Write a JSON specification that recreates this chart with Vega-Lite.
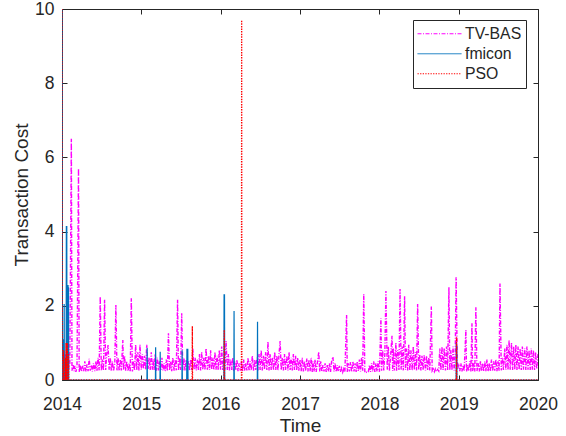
{
  "$schema": "https://vega.github.io/schema/vega-lite/v6.json",
  "width": 476,
  "height": 371,
  "autosize": {"type": "none"},
  "padding": {"left": 62, "top": 9, "right": 28, "bottom": 56},
  "background": "white",
  "config": {
    "font": "Liberation Sans",
    "view": {"stroke": "#262626", "strokeWidth": 1},
    "axis": {
      "grid": false, "domain": false,
      "tickColor": "#262626", "tickSize": -5, "tickWidth": 1,
      "labelColor": "#262626", "labelFont": "Liberation Sans", "labelFontSize": 17.5, "labelFlush": false,
      "titleColor": "#262626", "titleFont": "Liberation Sans", "titleFontSize": 19, "titleFontWeight": "normal"
    },
    "axisX": {"labelPadding": 20, "titlePadding": 4},
    "axisY": {"labelPadding": 13, "titlePadding": 3},
    "legend": {
      "orient": "none", "legendX": 351, "legendY": 11,
      "symbolType": "stroke", "symbolSize": 1936, "symbolStrokeWidth": 1,
      "labelFont": "Liberation Sans", "labelFontSize": 15.8, "labelColor": "#262626", "labelOffset": 3,
      "padding": 4, "rowPadding": 0, "clipHeight": 19.5,
      "strokeColor": "#262626", "fillColor": "white"
    }
  },
  "datasets": {
    "tvbas": [
      {"t":"2014-01-01","v":0.45},{"t":"2014-01-06","v":0.55},{"t":"2014-01-11","v":0.3},{"t":"2014-01-16","v":0.7},{"t":"2014-01-21","v":0.28},{"t":"2014-01-26","v":0.6},
      {"t":"2014-02-01","v":0.3},{"t":"2014-02-06","v":0.45},{"t":"2014-02-13","v":6.5},{"t":"2014-02-16","v":0.25},{"t":"2014-02-21","v":0.42},{"t":"2014-02-26","v":0.24},
      {"t":"2014-03-01","v":0.38},{"t":"2014-03-06","v":0.22},{"t":"2014-03-11","v":0.35},{"t":"2014-03-18","v":5.7},{"t":"2014-03-21","v":0.22},{"t":"2014-03-26","v":0.4},
      {"t":"2014-04-01","v":0.23},{"t":"2014-04-06","v":0.38},{"t":"2014-04-11","v":0.24},{"t":"2014-04-16","v":0.5},{"t":"2014-04-21","v":0.23},{"t":"2014-04-26","v":0.42},
      {"t":"2014-05-01","v":0.24},{"t":"2014-05-06","v":0.57},{"t":"2014-05-11","v":0.25},{"t":"2014-05-16","v":0.4},{"t":"2014-05-21","v":0.23},{"t":"2014-05-26","v":0.45},
      {"t":"2014-06-01","v":0.24},{"t":"2014-06-06","v":0.5},{"t":"2014-06-11","v":0.25},{"t":"2014-06-16","v":0.6},{"t":"2014-06-21","v":0.26},{"t":"2014-06-26","v":2.25},
      {"t":"2014-07-01","v":0.26},{"t":"2014-07-06","v":0.55},{"t":"2014-07-11","v":0.25},{"t":"2014-07-16","v":2.16},{"t":"2014-07-21","v":0.27},{"t":"2014-07-26","v":0.7},
      {"t":"2014-08-01","v":0.94},{"t":"2014-08-06","v":0.28},{"t":"2014-08-11","v":0.6},{"t":"2014-08-16","v":0.25},{"t":"2014-08-21","v":0.5},{"t":"2014-08-26","v":0.24},
      {"t":"2014-09-01","v":0.45},{"t":"2014-09-06","v":2.02},{"t":"2014-09-11","v":0.26},{"t":"2014-09-16","v":0.6},{"t":"2014-09-21","v":0.25},{"t":"2014-09-26","v":0.55},
      {"t":"2014-10-01","v":0.26},{"t":"2014-10-08","v":1.08},{"t":"2014-10-11","v":0.27},{"t":"2014-10-16","v":0.65},{"t":"2014-10-21","v":0.25},{"t":"2014-10-26","v":0.5},
      {"t":"2014-11-01","v":0.24},{"t":"2014-11-06","v":0.45},{"t":"2014-11-11","v":0.22},{"t":"2014-11-16","v":2.2},{"t":"2014-11-21","v":0.23},{"t":"2014-11-26","v":0.5},
      {"t":"2014-12-01","v":0.26},{"t":"2014-12-06","v":0.95},{"t":"2014-12-11","v":0.27},{"t":"2014-12-16","v":0.75},{"t":"2014-12-21","v":0.26},{"t":"2014-12-26","v":0.95},
      {"t":"2015-01-01","v":0.28},{"t":"2015-01-06","v":0.7},{"t":"2015-01-11","v":0.3},{"t":"2015-01-16","v":0.65},{"t":"2015-01-21","v":0.28},{"t":"2015-01-26","v":0.95},
      {"t":"2015-02-01","v":0.3},{"t":"2015-02-06","v":0.6},{"t":"2015-02-11","v":0.27},{"t":"2015-02-16","v":0.75},{"t":"2015-02-21","v":0.28},{"t":"2015-02-26","v":0.55},
      {"t":"2015-03-01","v":0.27},{"t":"2015-03-06","v":0.7},{"t":"2015-03-11","v":0.25},{"t":"2015-03-16","v":0.6},{"t":"2015-03-21","v":0.26},{"t":"2015-03-26","v":0.5},
      {"t":"2015-04-01","v":0.25},{"t":"2015-04-06","v":0.6},{"t":"2015-04-11","v":0.26},{"t":"2015-04-16","v":0.45},{"t":"2015-04-21","v":0.24},{"t":"2015-04-26","v":0.55},
      {"t":"2015-05-01","v":0.25},{"t":"2015-05-06","v":1.26},{"t":"2015-05-11","v":0.26},{"t":"2015-05-16","v":0.5},{"t":"2015-05-21","v":0.24},{"t":"2015-05-26","v":0.6},
      {"t":"2015-06-01","v":0.25},{"t":"2015-06-06","v":0.55},{"t":"2015-06-11","v":0.26},{"t":"2015-06-17","v":2.16},{"t":"2015-06-21","v":0.25},{"t":"2015-06-26","v":0.6},
      {"t":"2015-07-01","v":0.27},{"t":"2015-07-06","v":1.8},{"t":"2015-07-11","v":0.26},{"t":"2015-07-16","v":0.6},{"t":"2015-07-21","v":0.25},{"t":"2015-07-26","v":0.55},
      {"t":"2015-08-01","v":0.26},{"t":"2015-08-06","v":0.5},{"t":"2015-08-11","v":0.25},{"t":"2015-08-16","v":0.55},{"t":"2015-08-21","v":0.27},{"t":"2015-08-26","v":0.85},
      {"t":"2015-09-01","v":0.28},{"t":"2015-09-06","v":0.6},{"t":"2015-09-11","v":0.26},{"t":"2015-09-16","v":0.55},{"t":"2015-09-21","v":0.27},{"t":"2015-09-26","v":0.7},
      {"t":"2015-10-01","v":0.26},{"t":"2015-10-06","v":0.75},{"t":"2015-10-11","v":0.28},{"t":"2015-10-16","v":0.6},{"t":"2015-10-21","v":0.27},{"t":"2015-10-26","v":0.85},
      {"t":"2015-11-01","v":0.28},{"t":"2015-11-06","v":0.65},{"t":"2015-11-11","v":0.27},{"t":"2015-11-16","v":0.8},{"t":"2015-11-21","v":0.28},{"t":"2015-11-26","v":0.6},
      {"t":"2015-12-01","v":0.27},{"t":"2015-12-06","v":0.75},{"t":"2015-12-11","v":0.28},{"t":"2015-12-16","v":0.65},{"t":"2015-12-21","v":0.27},{"t":"2015-12-26","v":0.8},
      {"t":"2016-01-01","v":0.28},{"t":"2016-01-06","v":0.9},{"t":"2016-01-11","v":0.27},{"t":"2016-01-16","v":0.6},{"t":"2016-01-21","v":0.28},{"t":"2016-01-26","v":1.05},
      {"t":"2016-02-01","v":0.27},{"t":"2016-02-06","v":0.7},{"t":"2016-02-11","v":0.26},{"t":"2016-02-16","v":0.55},{"t":"2016-02-21","v":0.27},{"t":"2016-02-26","v":0.6},
      {"t":"2016-03-01","v":0.25},{"t":"2016-03-06","v":0.5},{"t":"2016-03-11","v":0.26},{"t":"2016-03-16","v":0.55},{"t":"2016-03-21","v":0.24},{"t":"2016-03-26","v":0.45},
      {"t":"2016-04-01","v":0.25},{"t":"2016-04-06","v":0.5},{"t":"2016-04-11","v":0.24},{"t":"2016-04-16","v":0.55},{"t":"2016-04-21","v":0.25},{"t":"2016-04-26","v":0.45},
      {"t":"2016-05-01","v":0.26},{"t":"2016-05-06","v":0.6},{"t":"2016-05-11","v":0.25},{"t":"2016-05-16","v":0.5},{"t":"2016-05-21","v":0.26},{"t":"2016-05-26","v":0.65},
      {"t":"2016-06-01","v":0.25},{"t":"2016-06-06","v":0.55},{"t":"2016-06-11","v":0.27},{"t":"2016-06-16","v":0.6},{"t":"2016-06-21","v":0.26},{"t":"2016-06-26","v":0.7},
      {"t":"2016-07-01","v":0.27},{"t":"2016-07-06","v":0.8},{"t":"2016-07-11","v":0.26},{"t":"2016-07-16","v":0.65},{"t":"2016-07-21","v":0.28},{"t":"2016-07-26","v":0.75},
      {"t":"2016-08-01","v":0.27},{"t":"2016-08-06","v":1.03},{"t":"2016-08-11","v":0.26},{"t":"2016-08-16","v":0.7},{"t":"2016-08-21","v":0.27},{"t":"2016-08-26","v":0.6},
      {"t":"2016-09-01","v":0.26},{"t":"2016-09-06","v":0.75},{"t":"2016-09-11","v":0.27},{"t":"2016-09-16","v":0.65},{"t":"2016-09-21","v":0.26},{"t":"2016-09-26","v":0.7},
      {"t":"2016-10-01","v":1.05},{"t":"2016-10-06","v":0.27},{"t":"2016-10-11","v":0.6},{"t":"2016-10-16","v":0.26},{"t":"2016-10-21","v":0.7},{"t":"2016-10-26","v":0.27},
      {"t":"2016-11-01","v":0.65},{"t":"2016-11-06","v":0.26},{"t":"2016-11-11","v":0.75},{"t":"2016-11-16","v":0.27},{"t":"2016-11-21","v":0.6},{"t":"2016-11-26","v":0.26},
      {"t":"2016-12-01","v":0.7},{"t":"2016-12-06","v":0.27},{"t":"2016-12-11","v":0.65},{"t":"2016-12-16","v":0.26},{"t":"2016-12-21","v":0.6},{"t":"2016-12-26","v":0.25},
      {"t":"2017-01-01","v":0.55},{"t":"2017-01-06","v":0.24},{"t":"2017-01-11","v":0.6},{"t":"2017-01-16","v":0.23},{"t":"2017-01-21","v":0.5},{"t":"2017-01-26","v":0.24},
      {"t":"2017-02-01","v":0.58},{"t":"2017-02-06","v":0.23},{"t":"2017-02-11","v":0.55},{"t":"2017-02-16","v":0.24},{"t":"2017-02-21","v":0.6},{"t":"2017-02-26","v":0.22},
      {"t":"2017-03-01","v":0.5},{"t":"2017-03-06","v":0.23},{"t":"2017-03-11","v":0.55},{"t":"2017-03-16","v":0.22},{"t":"2017-03-21","v":0.45},{"t":"2017-03-28","v":0.76},
      {"t":"2017-04-01","v":0.23},{"t":"2017-04-06","v":0.5},{"t":"2017-04-11","v":0.22},{"t":"2017-04-16","v":0.4},{"t":"2017-04-21","v":0.23},{"t":"2017-04-26","v":0.45},
      {"t":"2017-05-01","v":0.22},{"t":"2017-05-06","v":0.4},{"t":"2017-05-11","v":0.23},{"t":"2017-05-16","v":0.45},{"t":"2017-05-21","v":0.22},{"t":"2017-05-26","v":0.5},
      {"t":"2017-06-01","v":0.62},{"t":"2017-06-06","v":0.23},{"t":"2017-06-11","v":0.45},{"t":"2017-06-16","v":0.22},{"t":"2017-06-21","v":0.4},{"t":"2017-06-26","v":0.23},
      {"t":"2017-07-01","v":0.38},{"t":"2017-07-06","v":0.22},{"t":"2017-07-11","v":0.32},{"t":"2017-07-16","v":0.21},{"t":"2017-07-21","v":0.3},{"t":"2017-07-26","v":0.21},
      {"t":"2017-08-03","v":1.75},{"t":"2017-08-06","v":0.22},{"t":"2017-08-11","v":0.45},{"t":"2017-08-16","v":0.23},{"t":"2017-08-21","v":0.48},{"t":"2017-08-26","v":0.22},
      {"t":"2017-09-01","v":0.5},{"t":"2017-09-06","v":0.23},{"t":"2017-09-11","v":0.45},{"t":"2017-09-16","v":0.22},{"t":"2017-09-21","v":0.5},{"t":"2017-09-26","v":0.24},
      {"t":"2017-10-01","v":0.55},{"t":"2017-10-06","v":0.23},{"t":"2017-10-11","v":0.6},{"t":"2017-10-16","v":0.25},{"t":"2017-10-21","v":2.32},{"t":"2017-10-26","v":0.2},
      {"t":"2017-11-01","v":0.21},{"t":"2017-11-06","v":0.2},{"t":"2017-11-11","v":0.22},{"t":"2017-11-16","v":0.4},{"t":"2017-11-21","v":0.22},{"t":"2017-11-26","v":0.45},
      {"t":"2017-12-01","v":0.23},{"t":"2017-12-06","v":0.5},{"t":"2017-12-11","v":0.22},{"t":"2017-12-16","v":0.45},{"t":"2017-12-21","v":0.23},{"t":"2017-12-26","v":0.5},
      {"t":"2018-01-01","v":0.22},{"t":"2018-01-08","v":1.66},{"t":"2018-01-11","v":0.25},{"t":"2018-01-16","v":0.8},{"t":"2018-01-21","v":0.26},{"t":"2018-01-26","v":0.7},
      {"t":"2018-01-31","v":2.4},{"t":"2018-02-06","v":0.28},{"t":"2018-02-11","v":0.9},{"t":"2018-02-16","v":0.25},{"t":"2018-02-21","v":0.6},{"t":"2018-02-28","v":1.19},
      {"t":"2018-03-03","v":0.25},{"t":"2018-03-06","v":0.85},{"t":"2018-03-11","v":0.26},{"t":"2018-03-18","v":1.0},{"t":"2018-03-21","v":0.25},{"t":"2018-03-26","v":0.8},
      {"t":"2018-04-01","v":0.27},{"t":"2018-04-06","v":2.45},{"t":"2018-04-11","v":0.28},{"t":"2018-04-16","v":0.9},{"t":"2018-04-21","v":0.26},{"t":"2018-04-27","v":2.26},
      {"t":"2018-05-01","v":0.27},{"t":"2018-05-06","v":0.85},{"t":"2018-05-11","v":0.26},{"t":"2018-05-16","v":0.95},{"t":"2018-05-21","v":0.25},{"t":"2018-05-26","v":0.8},
      {"t":"2018-06-01","v":0.26},{"t":"2018-06-06","v":0.9},{"t":"2018-06-11","v":0.27},{"t":"2018-06-16","v":0.75},{"t":"2018-06-21","v":0.26},{"t":"2018-06-26","v":2.05},
      {"t":"2018-07-01","v":0.27},{"t":"2018-07-06","v":0.67},{"t":"2018-07-11","v":0.26},{"t":"2018-07-16","v":0.65},{"t":"2018-07-21","v":0.27},{"t":"2018-07-26","v":0.67},
      {"t":"2018-08-01","v":0.26},{"t":"2018-08-06","v":0.65},{"t":"2018-08-11","v":0.27},{"t":"2018-08-16","v":0.6},{"t":"2018-08-21","v":0.26},{"t":"2018-08-28","v":1.98},
      {"t":"2018-09-01","v":0.25},{"t":"2018-09-06","v":0.3},{"t":"2018-09-11","v":0.22},{"t":"2018-09-16","v":0.3},{"t":"2018-09-21","v":0.23},{"t":"2018-09-26","v":0.28},
      {"t":"2018-10-01","v":0.24},{"t":"2018-10-06","v":0.85},{"t":"2018-10-11","v":0.26},{"t":"2018-10-16","v":0.9},{"t":"2018-10-21","v":0.27},{"t":"2018-10-26","v":0.85},
      {"t":"2018-11-01","v":0.26},{"t":"2018-11-06","v":0.9},{"t":"2018-11-11","v":0.27},{"t":"2018-11-17","v":2.5},{"t":"2018-11-21","v":0.26},{"t":"2018-11-26","v":0.8},
      {"t":"2018-12-01","v":0.27},{"t":"2018-12-06","v":0.9},{"t":"2018-12-11","v":0.26},{"t":"2018-12-16","v":0.7},{"t":"2018-12-20","v":2.77},{"t":"2018-12-26","v":0.3},
      {"t":"2019-01-01","v":0.4},{"t":"2019-01-06","v":0.24},{"t":"2019-01-11","v":0.45},{"t":"2019-01-16","v":0.23},{"t":"2019-01-21","v":0.4},{"t":"2019-01-26","v":0.24},
      {"t":"2019-02-03","v":1.35},{"t":"2019-02-06","v":0.23},{"t":"2019-02-11","v":0.4},{"t":"2019-02-16","v":0.24},{"t":"2019-02-21","v":0.5},{"t":"2019-02-26","v":0.23},
      {"t":"2019-03-03","v":1.53},{"t":"2019-03-06","v":0.24},{"t":"2019-03-11","v":0.45},{"t":"2019-03-16","v":0.23},{"t":"2019-03-21","v":1.96},{"t":"2019-03-26","v":0.24},
      {"t":"2019-04-01","v":0.45},{"t":"2019-04-06","v":0.23},{"t":"2019-04-11","v":0.5},{"t":"2019-04-16","v":0.24},{"t":"2019-04-21","v":0.45},{"t":"2019-04-26","v":0.23},
      {"t":"2019-05-01","v":0.5},{"t":"2019-05-06","v":0.24},{"t":"2019-05-11","v":0.55},{"t":"2019-05-16","v":0.23},{"t":"2019-05-21","v":0.45},{"t":"2019-05-26","v":0.24},
      {"t":"2019-06-01","v":0.55},{"t":"2019-06-06","v":0.24},{"t":"2019-06-11","v":0.5},{"t":"2019-06-16","v":0.25},{"t":"2019-06-21","v":0.55},{"t":"2019-06-26","v":0.24},
      {"t":"2019-07-01","v":0.5},{"t":"2019-07-06","v":0.25},{"t":"2019-07-10","v":2.6},{"t":"2019-07-16","v":0.26},{"t":"2019-07-21","v":0.6},{"t":"2019-07-26","v":0.27},
      {"t":"2019-08-01","v":0.85},{"t":"2019-08-06","v":0.28},{"t":"2019-08-11","v":0.95},{"t":"2019-08-16","v":0.27},{"t":"2019-08-21","v":1.07},{"t":"2019-08-26","v":0.28},
      {"t":"2019-09-01","v":1.0},{"t":"2019-09-06","v":0.27},{"t":"2019-09-11","v":0.9},{"t":"2019-09-16","v":0.28},{"t":"2019-09-21","v":0.95},{"t":"2019-09-26","v":0.27},
      {"t":"2019-10-01","v":0.9},{"t":"2019-10-06","v":0.28},{"t":"2019-10-11","v":0.85},{"t":"2019-10-16","v":0.27},{"t":"2019-10-21","v":0.9},{"t":"2019-10-26","v":0.28},
      {"t":"2019-11-01","v":0.85},{"t":"2019-11-06","v":0.27},{"t":"2019-11-11","v":0.9},{"t":"2019-11-16","v":0.28},{"t":"2019-11-21","v":0.8},{"t":"2019-11-26","v":0.27},
      {"t":"2019-12-01","v":0.85},{"t":"2019-12-06","v":0.28},{"t":"2019-12-11","v":0.8},{"t":"2019-12-16","v":0.27},{"t":"2019-12-21","v":0.75},{"t":"2019-12-26","v":0.3},
      {"t":"2020-01-01","v":0.7}
    ],
    "fmicon": [
      {"t":"2014-01-01","v":10},{"t":"2014-01-02","v":0},
      {"t":"2014-01-07","v":0},{"t":"2014-01-08","v":1.1},{"t":"2014-01-09","v":0},
      {"t":"2014-01-10","v":0},{"t":"2014-01-11","v":2.05},{"t":"2014-01-12","v":0},
      {"t":"2014-01-20","v":0},{"t":"2014-01-21","v":4.15},{"t":"2014-01-22","v":0},{"t":"2014-01-23","v":4.15},{"t":"2014-01-24","v":0},
      {"t":"2014-01-28","v":0},{"t":"2014-01-29","v":2.56},{"t":"2014-01-30","v":0},{"t":"2014-01-31","v":2.5},{"t":"2014-02-01","v":0},
      {"t":"2015-01-27","v":0},{"t":"2015-01-28","v":0.86},{"t":"2015-01-29","v":0},
      {"t":"2015-03-07","v":0},{"t":"2015-03-08","v":0.88},{"t":"2015-03-09","v":0},
      {"t":"2015-03-28","v":0},{"t":"2015-03-29","v":0.76},{"t":"2015-03-30","v":0},
      {"t":"2015-07-07","v":0},{"t":"2015-07-08","v":0.8},{"t":"2015-07-09","v":0},
      {"t":"2015-07-29","v":0},{"t":"2015-07-30","v":0.84},{"t":"2015-07-31","v":0},{"t":"2015-08-01","v":0.84},{"t":"2015-08-02","v":0},{"t":"2015-08-03","v":0.84},{"t":"2015-08-04","v":0},
      {"t":"2016-01-16","v":0},{"t":"2016-01-17","v":2.31},{"t":"2016-01-18","v":0},{"t":"2016-01-19","v":2.31},{"t":"2016-01-20","v":0},
      {"t":"2016-03-02","v":0},{"t":"2016-03-03","v":1.86},{"t":"2016-03-04","v":0},
      {"t":"2016-06-18","v":0},{"t":"2016-06-19","v":1.57},{"t":"2016-06-20","v":0},
      {"t":"2018-12-20","v":0},{"t":"2018-12-21","v":1.0},{"t":"2018-12-22","v":0},{"t":"2018-12-23","v":0.95},{"t":"2018-12-24","v":0},
      {"t":"2020-01-01","v":0}
    ],
    "pso": [
      {"t":"2014-01-01","v":10},{"t":"2014-01-02","v":0},
      {"t":"2014-01-07","v":0},{"t":"2014-01-08","v":0.8},{"t":"2014-01-09","v":0},
      {"t":"2014-01-15","v":0},{"t":"2014-01-16","v":0.6},{"t":"2014-01-17","v":0},
      {"t":"2014-01-19","v":0},{"t":"2014-01-20","v":1.0},{"t":"2014-01-21","v":0},
      {"t":"2014-01-25","v":0},{"t":"2014-01-26","v":1.0},{"t":"2014-01-27","v":0},
      {"t":"2014-01-30","v":0},{"t":"2014-01-31","v":0.7},{"t":"2014-02-01","v":0},
      {"t":"2015-08-23","v":0},{"t":"2015-08-24","v":1.45},{"t":"2015-08-25","v":0},
      {"t":"2016-01-17","v":0},{"t":"2016-01-18","v":1.35},{"t":"2016-01-19","v":0},
      {"t":"2016-04-06","v":0},{"t":"2016-04-07","v":9.7},{"t":"2016-04-08","v":0},
      {"t":"2018-12-21","v":0},{"t":"2018-12-22","v":1.15},{"t":"2018-12-23","v":0},
      {"t":"2020-01-01","v":0}
    ]
  },
  "layer": [
    {
      "data": {"name": "tvbas"},
      "mark": {"type": "line", "strokeWidth": 1.4, "clip": true},
      "encoding": {
        "x": {
          "field": "t", "type": "temporal", "title": "Time",
          "scale": {"type": "utc", "domain": [{"year": 2014, "month": 1, "date": 1, "utc": true}, {"year": 2020, "month": 1, "date": 1, "utc": true}]},
          "axis": {"format": "%Y", "tickCount": {"interval": "year", "step": 1}}
        },
        "y": {
          "field": "v", "type": "quantitative", "title": "Transaction Cost",
          "scale": {"domain": [0, 10], "nice": false},
          "axis": {"values": [0, 2, 4, 6, 8, 10]}
        },
        "color": {
          "datum": "TV-BAS", "type": "nominal",
          "scale": {"domain": ["TV-BAS", "fmicon", "PSO"], "range": ["#FF00FF", "#0072BD", "#FF0000"]},
          "legend": {"title": null}
        },
        "strokeDash": {
          "datum": "TV-BAS", "type": "nominal",
          "scale": {"domain": ["TV-BAS", "fmicon", "PSO"], "range": [[4, 1.5, 1, 1.5], [1, 0], [1.3, 1.3]]},
          "legend": {"title": null}
        }
      }
    },
    {
      "data": {"name": "fmicon"},
      "mark": {"type": "line", "strokeWidth": 1.2, "clip": true},
      "encoding": {
        "x": {"field": "t", "type": "temporal", "scale": {"type": "utc"}, "axis": null},
        "y": {"field": "v", "type": "quantitative", "axis": null},
        "color": {"datum": "fmicon", "type": "nominal", "legend": {"title": null}},
        "strokeDash": {"datum": "fmicon", "type": "nominal", "legend": {"title": null}}
      }
    },
    {
      "data": {"name": "pso"},
      "mark": {"type": "line", "strokeWidth": 1.3, "clip": true},
      "encoding": {
        "x": {"field": "t", "type": "temporal", "scale": {"type": "utc"}, "axis": null},
        "y": {"field": "v", "type": "quantitative", "axis": null},
        "color": {"datum": "PSO", "type": "nominal", "legend": {"title": null}},
        "strokeDash": {"datum": "PSO", "type": "nominal", "legend": {"title": null}}
      }
    },
    {
      "data": {"name": "pso"},
      "mark": {"type": "point", "opacity": 0},
      "encoding": {
        "x": {"field": "t", "type": "temporal", "scale": {"type": "utc"}, "axis": {"orient": "top", "labels": false, "title": null, "tickCount": {"interval": "year", "step": 1}}},
        "y": {"field": "v", "type": "quantitative", "axis": {"orient": "right", "labels": false, "title": null, "values": [0, 2, 4, 6, 8, 10]}}
      }
    }
  ],
  "resolve": {"axis": {"x": "independent", "y": "independent"}}
}
